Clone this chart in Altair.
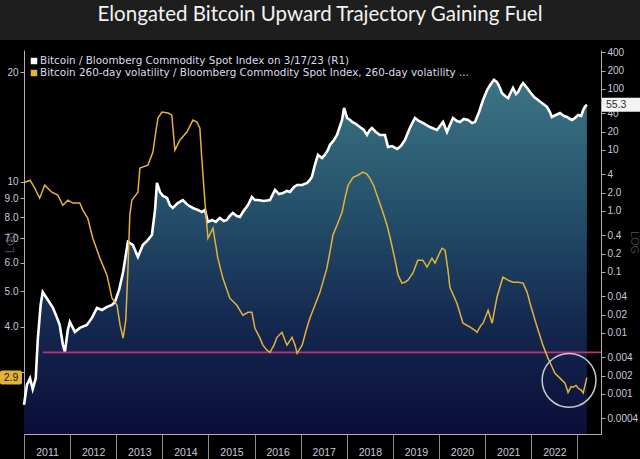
import altair as alt
import pandas as pd

TITLE = "Elongated Bitcoin Upward Trajectory Gaining Fuel"
LEG1 = "Bitcoin / Bloomberg Commodity Spot Index on 3/17/23 (R1)"
LEG2 = "Bitcoin 260-day volatility / Bloomberg Commodity Spot Index, 260-day volatility ..."

# Bitcoin / BCOM (right axis, log)
btc_series = [
    ("2011-01-01", 0.00066), ("2011-01-24", 0.0014), ("2011-02-18", 0.0018), ("2011-03-11", 0.0012),
    ("2011-04-04", 0.0018), ("2011-04-20", 0.0077), ("2011-05-13", 0.029), ("2011-05-29", 0.047),
    ("2011-07-08", 0.035), ("2011-08-17", 0.026), ("2011-09-18", 0.018), ("2011-10-11", 0.0135),
    ("2011-11-05", 0.0064), ("2011-11-21", 0.0049), ("2011-12-14", 0.0112), ("2011-12-30", 0.0151),
    ("2012-02-08", 0.0104), ("2012-03-18", 0.0121), ("2012-05-13", 0.0135), ("2012-06-22", 0.0176),
    ("2012-08-01", 0.0257), ("2012-09-10", 0.0238), ("2012-10-19", 0.0267), ("2012-11-28", 0.0288),
    ("2012-12-21", 0.0322), ("2013-01-23", 0.0507), ("2013-02-24", 0.100), ("2013-04-03", 0.310),
    ("2013-05-12", 0.277), ("2013-06-21", 0.176), ("2013-07-30", 0.277), ("2013-09-09", 0.335),
    ("2013-10-10", 0.404), ("2013-11-04", 1.04), ("2013-11-19", 2.88), ("2013-12-13", 2.05),
    ("2014-01-06", 1.76), ("2014-02-07", 1.63), ("2014-03-01", 1.25), ("2014-03-24", 1.12),
    ("2014-05-03", 1.35), ("2014-06-12", 1.51), ("2014-07-21", 1.25), ("2014-08-31", 1.12),
    ("2014-10-09", 1.04), ("2014-11-10", 0.963), ("2014-12-04", 1.04), ("2014-12-28", 0.660),
    ("2015-01-29", 0.712), ("2015-02-28", 0.660), ("2015-04-01", 0.768), ("2015-05-03", 0.686),
    ("2015-05-26", 0.712), ("2015-06-19", 0.828), ("2015-07-13", 0.927), ("2015-08-14", 0.828),
    ("2015-09-07", 0.798), ("2015-10-01", 0.963), ("2015-11-10", 1.25), ("2015-12-11", 1.70),
    ("2016-01-04", 1.51), ("2016-01-28", 1.51), ("2016-03-15", 1.46), ("2016-05-02", 1.51),
    ("2016-06-11", 2.21), ("2016-07-12", 1.90), ("2016-08-13", 1.97), ("2016-09-14", 2.13),
    ("2016-10-08", 2.05), ("2016-11-09", 2.47), ("2016-12-03", 2.67), ("2017-01-12", 2.67),
    ("2017-02-21", 2.88), ("2017-03-14", 3.22), ("2017-03-30", 3.61), ("2017-04-23", 5.68),
    ("2017-05-17", 8.28), ("2017-06-18", 7.39), ("2017-07-11", 8.28), ("2017-08-04", 10.0),
    ("2017-08-20", 12.1), ("2017-09-21", 14.6), ("2017-10-15", 17.6), ("2017-11-08", 24.7),
    ("2017-11-24", 31.0), ("2017-12-10", 48.8), ("2018-01-03", 33.5), ("2018-01-27", 31.0),
    ("2018-02-12", 28.8), ("2018-03-13", 26.7), ("2018-04-14", 23.8), ("2018-05-16", 21.3),
    ("2018-06-09", 17.6), ("2018-07-02", 21.3), ("2018-07-18", 22.9), ("2018-08-19", 19.7),
    ("2018-09-20", 17.6), ("2018-10-30", 17.6), ("2018-11-23", 11.2), ("2018-12-25", 11.6),
    ("2019-02-03", 10.4), ("2019-03-05", 11.6), ("2019-04-06", 14.6), ("2019-05-15", 22.9),
    ("2019-06-24", 33.5), ("2019-07-25", 29.9), ("2019-08-26", 27.7), ("2019-10-21", 23.8),
    ("2019-12-16", 21.3), ("2020-01-09", 24.7), ("2020-02-02", 28.8), ("2020-03-04", 19.7),
    ("2020-03-27", 25.7), ("2020-04-21", 33.5), ("2020-05-22", 29.9), ("2020-06-15", 28.8),
    ("2020-07-16", 32.2), ("2020-08-18", 31.0), ("2020-09-19", 27.7), ("2020-10-12", 28.8),
    ("2020-11-13", 42.0), ("2020-12-15", 66.0), ("2021-01-16", 96.3), ("2021-02-09", 116),
    ("2021-03-11", 141), ("2021-04-04", 130), ("2021-04-28", 104), ("2021-05-13", 85.9),
    ("2021-06-07", 76.7), ("2021-07-01", 71.2), ("2021-07-24", 89.3), ("2021-08-09", 104),
    ("2021-09-02", 82.8), ("2021-09-18", 89.3), ("2021-10-12", 112), ("2021-10-28", 125),
    ("2021-11-29", 104), ("2021-12-22", 89.3), ("2022-01-23", 73.9), ("2022-02-24", 66.0),
    ("2022-03-26", 58.9), ("2022-05-05", 50.7), ("2022-05-28", 42.0), ("2022-06-13", 34.8),
    ("2022-07-15", 37.5), ("2022-08-16", 40.4), ("2022-09-17", 36.1), ("2022-10-11", 34.8),
    ("2022-11-04", 32.2), ("2022-11-20", 31.0), ("2022-12-13", 33.5), ("2023-01-07", 37.5),
    ("2023-01-31", 36.1), ("2023-02-16", 45.3), ("2023-03-01", 50.7), ("2023-03-17", 55.3),
]

# Bitcoin 260-day vol / BCOM 260-day vol (left axis, log)
vol_series = [
    ("2011-01-08", 9.97), ("2011-02-18", 10.10), ("2011-03-27", 9.60), ("2011-05-05", 9.01),
    ("2011-06-14", 9.79), ("2011-08-09", 9.36), ("2011-09-26", 9.19), ("2011-11-05", 8.62),
    ("2011-12-14", 8.90), ("2012-01-23", 8.74), ("2012-03-18", 8.74), ("2012-04-11", 8.36),
    ("2012-05-20", 7.94), ("2012-06-29", 7.00), ("2012-08-24", 6.17), ("2012-10-19", 5.54),
    ("2012-11-28", 4.79), ("2013-01-07", 4.58), ("2013-01-31", 4.04), ("2013-02-24", 3.72),
    ("2013-03-17", 4.17), ("2013-04-03", 5.72), ("2013-04-18", 8.09), ("2013-05-04", 8.90),
    ("2013-06-21", 9.36), ("2013-07-07", 10.90), ("2013-09-09", 11.11), ("2013-10-18", 12.06),
    ("2013-11-12", 13.86), ("2013-11-27", 14.95), ("2013-12-29", 15.54), ("2014-02-15", 15.44),
    ("2014-03-17", 15.24), ("2014-04-10", 12.21), ("2014-05-19", 13.01), ("2014-07-14", 13.69),
    ("2014-08-31", 14.77), ("2014-10-02", 14.58), ("2014-10-25", 14.04), ("2014-11-10", 11.47),
    ("2014-12-04", 8.79), ("2014-12-28", 7.00), ("2015-02-06", 7.46), ("2015-03-16", 6.17),
    ("2015-04-25", 5.44), ("2015-06-19", 4.79), ("2015-08-14", 4.58), ("2015-10-01", 4.30),
    ("2015-11-10", 4.38), ("2015-12-11", 4.38), ("2016-01-04", 3.96), ("2016-02-13", 3.72),
    ("2016-03-07", 3.56), ("2016-04-08", 3.45), ("2016-05-02", 3.40), ("2016-06-03", 3.56),
    ("2016-06-27", 3.74), ("2016-08-05", 3.86), ("2016-08-29", 3.67), ("2016-09-14", 3.56),
    ("2016-10-24", 3.74), ("2016-11-17", 3.56), ("2016-12-03", 3.38), ("2016-12-27", 3.49),
    ("2017-01-12", 3.56), ("2017-02-13", 3.91), ("2017-03-14", 4.22), ("2017-04-23", 4.58),
    ("2017-06-02", 4.97), ("2017-07-27", 5.79), ("2017-08-20", 6.41), ("2017-09-13", 7.14),
    ("2017-10-15", 7.60), ("2017-11-24", 8.25), ("2017-12-17", 9.01), ("2018-01-11", 9.79),
    ("2018-02-20", 10.29), ("2018-03-29", 10.42), ("2018-05-08", 10.63), ("2018-06-09", 10.49),
    ("2018-07-02", 10.23), ("2018-08-04", 9.72), ("2018-08-27", 9.19), ("2018-10-14", 8.25),
    ("2018-11-15", 7.60), ("2018-12-09", 7.04), ("2019-01-18", 6.09), ("2019-02-11", 5.54),
    ("2019-03-13", 5.27), ("2019-04-06", 5.30), ("2019-04-30", 5.37), ("2019-06-08", 5.61),
    ("2019-07-17", 6.09), ("2019-08-26", 6.09), ("2019-09-28", 5.83), ("2019-11-06", 6.17),
    ("2019-11-30", 5.98), ("2020-01-09", 6.41), ("2020-01-25", 6.57), ("2020-02-18", 6.49),
    ("2020-03-12", 5.72), ("2020-03-27", 5.13), ("2020-05-22", 4.64), ("2020-07-09", 4.09),
    ("2020-09-03", 3.99), ("2020-10-12", 3.91), ("2020-10-28", 3.86), ("2020-11-29", 4.04),
    ("2020-12-15", 4.09), ("2021-01-24", 4.44), ("2021-02-25", 4.09), ("2021-04-04", 4.82),
    ("2021-05-21", 5.47), ("2021-07-01", 5.37), ("2021-08-09", 5.30), ("2021-09-18", 5.30),
    ("2021-10-28", 5.27), ("2021-11-29", 4.97), ("2021-12-22", 4.64), ("2022-02-16", 3.99),
    ("2022-04-03", 3.56), ("2022-05-13", 3.28), ("2022-06-13", 3.11), ("2022-07-07", 2.98),
    ("2022-08-16", 2.89), ("2022-09-25", 2.80), ("2022-10-19", 2.64), ("2022-11-12", 2.74),
    ("2022-11-28", 2.73), ("2022-12-21", 2.76), ("2023-01-07", 2.71), ("2023-01-31", 2.68),
    ("2023-02-16", 2.63), ("2023-03-17", 2.90),
]

left_ticks = [3, 4, 5, 6, 7, 8, 9, 10, 20]
right_ticks = [0.0004, 0.001, 0.002, 0.004, 0.01, 0.02, 0.04, 0.1, 0.2, 0.4,
               1, 2, 4, 10, 20, 40, 100, 200, 400]
year_ticks = list(range(2011, 2024))

threshold_value = 3.4
threshold_start = (2011, 5, 30)
last_btc = 55.3
last_vol = 2.9
circle_date = (2022, 10, 27)
circle_value = 2.85

X_START = (2011, 1, 1)
X_END = (2023, 7, 7)
L_DOMAIN = [2.03, 23.0]
R_DOMAIN = [0.00022, 436]

W, H = 577, 384
TXT = "#c8c8dc"
GOLD = "#e2b23a"
FONT = "Liberation Sans"


def dt(t):
    return alt.DateTime(year=t[0], month=t[1], date=t[2], utc=True)


btc = pd.DataFrame(btc_series, columns=["date", "value"])
vol = pd.DataFrame(vol_series, columns=["date", "value"])
one = pd.DataFrame({"k": [0]})

x_scale = alt.Scale(type="utc", domain=[dt(X_START), dt(X_END)])
x_axis = alt.Axis(
    values=[dt((y, 1, 1)) for y in year_ticks],
    labelExpr="utcyear(datum.value) >= 2023 ? '' : utcFormat(datum.value, '%Y')",
    labelOffset=23, labelAlign="center", labelPadding=-12, tickSize=25,
    tickColor="#8a8a8a", domainColor="#b0b0b0", labelColor=TXT, labelFontSize=10.5,
    labelFont=FONT, grid=False, title=None, labelOverlap=False, labelFlush=False,
)
x_enc = alt.X("date:T", scale=x_scale, axis=x_axis)

l_scale = alt.Scale(type="log", domain=L_DOMAIN)
l_axis = alt.Axis(
    orient="left", values=left_ticks,
    labelExpr="datum.value == 3 ? '' : datum.value >= 10 ? format(datum.value, 'd') : format(datum.value, '.1f')",
    tickSize=4, tickColor="#b0b0b0", domainColor="#b0b0b0", labelColor=TXT,
    labelFontSize=10, labelFont=FONT, labelPadding=2, grid=False, labelOverlap=False,
    title="Log", titleColor="#9a9ab0", titleOpacity=0.45, titleFontSize=13,
    titleFontWeight="normal", titleX=-8, titleY=192, titleAngle=270,
)
r_scale = alt.Scale(type="log", domain=R_DOMAIN)
r_axis = alt.Axis(
    orient="right", values=right_ticks,
    labelExpr="datum.value >= 10 ? format(datum.value, 'd') : datum.value == 4 ? '4' : "
              "datum.value >= 1 ? format(datum.value, '.1f') : format(datum.value, '~g')",
    tickSize=4, tickColor="#b0b0b0", domainColor="#b0b0b0", labelColor=TXT,
    labelFontSize=10, labelFont=FONT, labelPadding=2, grid=False, labelOverlap=False,
    labelBound=False, title="LOG", titleColor="#9a9ab0", titleOpacity=0.45,
    titleFontSize=11, titleFontWeight="normal", titleX=27, titleY=192, titleAngle=90,
)


def ly(**kw):
    return alt.Y(scale=l_scale, axis=l_axis, **kw)


def ry(**kw):
    return alt.Y(scale=r_scale, axis=r_axis, **kw)


gradient = alt.Gradient(
    gradient="linear", x1=1, x2=1, y1=0, y2=1,
    stops=[
        alt.GradientStop(color="#3c7584", offset=0),
        alt.GradientStop(color="#25526b", offset=0.35),
        alt.GradientStop(color="#14274f", offset=0.7),
        alt.GradientStop(color="#0a0e38", offset=1),
    ],
)

# ---- right-axis group (Bitcoin / BCOM)
area = alt.Chart(btc).mark_area(color=gradient).encode(
    x=x_enc, y=ry(field="value", type="quantitative"), y2=alt.Y2(datum=R_DOMAIN[0])
)
wline = alt.Chart(btc).mark_line(color="#ffffff", strokeWidth=2.6).encode(
    x=x_enc, y=ry(field="value", type="quantitative")
)
rbox = alt.Chart(one).mark_rect(color="#f4f4f4", yOffset=-7, y2Offset=7).encode(
    x=alt.value(W + 1), x2=alt.value(W + 39), y=ry(datum=last_btc), y2=alt.Y2(datum=last_btc)
)
rtext = alt.Chart(one).mark_text(
    text=f"{last_btc}", color="#303030", fontSize=10.5, font=FONT, align="left", baseline="middle"
).encode(x=alt.value(W + 5), y=ry(datum=last_btc))
right_group = alt.layer(area, wline, rbox, rtext)

# ---- left-axis group (volatility ratio)
rule = alt.Chart(one).mark_rule(color="#c2307a", strokeWidth=1.6).encode(
    x=alt.X(datum=dt(threshold_start), type="temporal", scale=x_scale, axis=x_axis),
    x2=alt.X2(datum=dt(X_END)),
    y=ly(datum=threshold_value),
)
oline = alt.Chart(vol).mark_line(color=GOLD, strokeWidth=1.5).encode(
    x=x_enc, y=ly(field="value", type="quantitative")
)
ring = alt.Chart(one).mark_point(
    shape="circle", filled=False, size=2900, stroke="#c8c8c8", strokeWidth=1.5, opacity=1
).encode(
    x=alt.X(datum=dt(circle_date), type="temporal", scale=x_scale, axis=x_axis),
    y=ly(datum=circle_value),
)
lbox = alt.Chart(one).mark_rect(color=GOLD, yOffset=-7, y2Offset=7, cornerRadius=2).encode(
    x=alt.value(-24), x2=alt.value(-2), y=ly(datum=last_vol), y2=alt.Y2(datum=last_vol)
)
ltext = alt.Chart(one).mark_text(
    text=f"{last_vol}", color="#202020", fontSize=10.5, font=FONT, align="center", baseline="middle"
).encode(x=alt.value(-13), y=ly(datum=last_vol))

# ---- decorations: title band, title, legend
band = alt.Chart(one).mark_rect(color="#1e1e1e").encode(
    x=alt.value(-24), x2=alt.value(W + 39), y=alt.value(-50), y2=alt.value(-10)
)
title = alt.Chart(one).mark_text(
    text=TITLE, color="#f2f2f2", fontSize=20.5, font="Lato", align="center", baseline="middle"
).encode(x=alt.value(296), y=alt.value(-35))
sq1 = alt.Chart(one).mark_square(color="#ffffff", size=42, opacity=1).encode(
    x=alt.value(10), y=alt.value(11))
sq2 = alt.Chart(one).mark_square(color=GOLD, size=42, opacity=1).encode(
    x=alt.value(10), y=alt.value(23))
lt1 = alt.Chart(one).mark_text(
    text=LEG1, color="#dcdcee", fontSize=10.4, font="DejaVu Sans", align="left", baseline="middle"
).encode(x=alt.value(16), y=alt.value(11))
lt2 = alt.Chart(one).mark_text(
    text=LEG2, color="#dcdcee", fontSize=10.4, font="DejaVu Sans", align="left", baseline="middle"
).encode(x=alt.value(16), y=alt.value(23))

left_group = alt.layer(rule, oline, ring, lbox, ltext, band, title, sq1, sq2, lt1, lt2)

chart = alt.layer(right_group, left_group).resolve_scale(y="independent").properties(
    width=W, height=H,
    padding={"left": 24, "top": 50, "right": 39, "bottom": 25},
    autosize=alt.AutoSizeParams(type="none"),
    background="#000000",
).configure_view(stroke=None)

chart.save("out.html", embed_options={"renderer": "svg", "actions": False})
